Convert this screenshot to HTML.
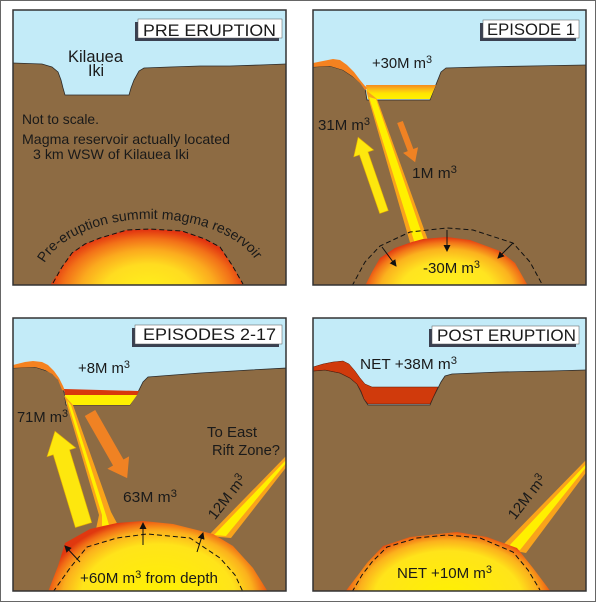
<!DOCTYPE html>
<html><head><meta charset="utf-8">
<style>
html,body{margin:0;padding:0;background:#fff;width:600px;height:605px;overflow:hidden}
svg{display:block}
text{font-family:"Liberation Sans",Arial,sans-serif;fill:#1a1a1a}
</style></head><body>
<svg width="600" height="605" viewBox="0 0 600 605" xmlns="http://www.w3.org/2000/svg">
<defs>
<clipPath id="c1"><rect x="13" y="10" width="273" height="275"/></clipPath>
<clipPath id="c2"><rect x="313" y="10" width="273" height="275"/></clipPath>
<clipPath id="c3"><rect x="13" y="318" width="273" height="273"/></clipPath>
<clipPath id="c4"><rect x="313" y="318" width="273" height="273"/></clipPath>
<radialGradient id="g1" gradientUnits="userSpaceOnUse" cx="148" cy="292" r="100" gradientTransform="translate(148,292) scale(1,0.62) translate(-148,-292)">
<stop offset="0" stop-color="#fff21a"/><stop offset="0.45" stop-color="#ffdc20"/><stop offset="0.68" stop-color="#fbaa1e"/><stop offset="0.86" stop-color="#f27018"/><stop offset="1" stop-color="#e23510"/>
</radialGradient>
<radialGradient id="g2" gradientUnits="userSpaceOnUse" cx="447" cy="292" r="86" gradientTransform="translate(447,292) scale(1,0.64) translate(-447,-292)">
<stop offset="0" stop-color="#fff21a"/><stop offset="0.55" stop-color="#ffe420"/><stop offset="0.78" stop-color="#fbb21e"/><stop offset="0.9" stop-color="#f27418"/><stop offset="1" stop-color="#e23510"/>
</radialGradient>
<radialGradient id="g3" gradientUnits="userSpaceOnUse" cx="158" cy="600" r="114" gradientTransform="translate(158,600) scale(1,0.72) translate(-158,-600)">
<stop offset="0" stop-color="#fff200"/><stop offset="0.68" stop-color="#ffe41a"/><stop offset="0.84" stop-color="#fbb01c"/><stop offset="0.94" stop-color="#f06a15"/><stop offset="1" stop-color="#e0380f"/>
</radialGradient>
<radialGradient id="g4" gradientUnits="userSpaceOnUse" cx="448" cy="600" r="106" gradientTransform="translate(448,600) scale(1,0.66) translate(-448,-600)">
<stop offset="0" stop-color="#fff200"/><stop offset="0.7" stop-color="#ffe41a"/><stop offset="0.85" stop-color="#fbb01c"/><stop offset="0.95" stop-color="#f06a15"/><stop offset="1" stop-color="#e0380f"/>
</radialGradient>
<linearGradient id="lake" x1="0" y1="0" x2="0" y2="1">
<stop offset="0" stop-color="#f58a1f"/><stop offset="0.3" stop-color="#fbb917"/><stop offset="0.6" stop-color="#ffe500"/><stop offset="1" stop-color="#fff200"/>
</linearGradient>
<marker id="ah" markerUnits="userSpaceOnUse" markerWidth="7" markerHeight="7" refX="6" refY="3.5" orient="auto">
<path d="M0,0 L7,3.5 L0,7 Z" fill="#111"/>
</marker>
<path id="arc1" d="M 44,264 A 112,64 0 0 1 258,264" fill="none"/>
</defs>

<rect x="0.5" y="0.5" width="595" height="601" fill="#fff" stroke="#666" stroke-width="1"/>

<!-- PANEL 1 -->
<g clip-path="url(#c1)">
<rect x="13" y="10" width="273" height="275" fill="#c3ebf8"/>
<path d="M13,63 L42,64 L52,67 L58,72 L61,80 L63,88 L65,95 L129,95 L131,88 L134,80 L139,71 L144,68 L170,67 L200,66 L230,66 L260,65 L287,64 L287,286 L13,286 Z" fill="#8d6b43" stroke="#2b2b2b" stroke-width="0.8"/>
<path d="M50,286 L52,282 L62,267 L72,253 L85,244 L100,238 L127,230 L150,229 L182,231 L205,239 L220,247 L232,265 L244,286 Z" fill="url(#g1)"/>
<path d="M53,283 L62,267 L72,253 L85,244 L100,238 L127,230 L150,229 L182,231 L205,239 L220,247 L232,265 L243,284" fill="none" stroke="#111" stroke-width="1" stroke-dasharray="5,3"/>
<text x="68" y="62" font-size="16.5" textLength="55" lengthAdjust="spacingAndGlyphs">Kilauea</text>
<text x="88" y="76" font-size="16.5" textLength="16" lengthAdjust="spacingAndGlyphs">Iki</text>
<text x="22" y="124" font-size="14" textLength="77" lengthAdjust="spacingAndGlyphs">Not to scale.</text>
<text x="22" y="144" font-size="14" textLength="208" lengthAdjust="spacingAndGlyphs">Magma reservoir actually located</text>
<text x="33" y="159" font-size="14" textLength="156" lengthAdjust="spacingAndGlyphs">3 km WSW of Kilauea Iki</text>
<text font-size="14"><textPath href="#arc1" startOffset="1" textLength="236" lengthAdjust="spacingAndGlyphs">Pre-eruption summit magma reservoir</textPath></text>
</g>
<rect x="135" y="22" width="144" height="19" fill="#3a4050"/>
<rect x="138" y="19" width="144" height="19" fill="#fff" stroke="#555" stroke-width="0.5"/>
<text x="143" y="36" font-size="17" textLength="133" lengthAdjust="spacingAndGlyphs">PRE ERUPTION</text>
<rect x="13" y="10" width="273" height="275" fill="none" stroke="#333" stroke-width="1.5"/>

<!-- PANEL 2 -->
<g clip-path="url(#c2)">
<rect x="313" y="10" width="273" height="275" fill="#c3ebf8"/>
<path d="M313,67 L330,66 L343,70 L352,76 L360,82 L365,88 L367,100 L430,100 L433,92 L437,82 L441,72 L446,68 L480,67 L530,66 L587,65 L587,286 L313,286 Z" fill="#8d6b43" stroke="#2b2b2b" stroke-width="0.8"/>
<path d="M313,63 L323,61 L333,59 L340,60 L347,65 L354,72 L360,80 L365,86 L368,88 L365,90 L360,83 L352,76 L343,70 L330,66 L313,67 Z" fill="#f58220"/>
<path d="M366,85 L436,85 L430,99 L368,99 Z" fill="url(#lake)"/>
<path d="M366,90 L377,99 L429,243 L411,246 Z" fill="#f9a31b"/>
<path d="M369,97 L376,99 L425,243 L415,244 Z" fill="#fff000"/>
<path d="M365,286 L372,272 L380,258 L395,248 L412,242 L423,239 L447,237 L470,240 L500,251 L515,263 L528,286 Z" fill="url(#g2)"/>
<path d="M352,286 L365,262 L380,246 L410,232 L447,228 L473,230 L513,243 L530,262 L543,286" fill="none" stroke="#111" stroke-width="1" stroke-dasharray="5,3"/>
<line x1="382" y1="247" x2="396" y2="266" stroke="#111" stroke-width="1" marker-end="url(#ah)"/>
<line x1="447" y1="230" x2="447" y2="251" stroke="#111" stroke-width="1" marker-end="url(#ah)"/>
<line x1="513" y1="243" x2="498" y2="258" stroke="#111" stroke-width="1" marker-end="url(#ah)"/>
<polygon transform="translate(384,212) rotate(-109.1)" points="0,-4.5 62,-4.5 62,-10.5 79,0 62,10.5 62,4.5 0,4.5" fill="#fde70e" stroke="#e8b000" stroke-width="0.6"/>
<polygon transform="translate(400,122) rotate(69.4)" points="0,-3 30,-3 30,-8 43,0 30,8 30,3 0,3" fill="#f08223"/>
<text x="372" y="68" font-size="15" textLength="60" lengthAdjust="spacingAndGlyphs">+30M m<tspan font-size="11" dy="-5">3</tspan></text>
<text x="318" y="130" font-size="15" textLength="52" lengthAdjust="spacingAndGlyphs">31M m<tspan font-size="11" dy="-5">3</tspan></text>
<text x="412" y="178" font-size="15" textLength="45" lengthAdjust="spacingAndGlyphs">1M m<tspan font-size="11" dy="-5">3</tspan></text>
<text x="423" y="273" font-size="15" textLength="57" lengthAdjust="spacingAndGlyphs">-30M m<tspan font-size="11" dy="-5">3</tspan></text>
</g>
<rect x="480" y="23" width="96" height="18" fill="#3a4050"/>
<rect x="483" y="20" width="96" height="18" fill="#fff" stroke="#555" stroke-width="0.5"/>
<text x="487" y="35" font-size="17" textLength="88" lengthAdjust="spacingAndGlyphs">EPISODE 1</text>
<rect x="313" y="10" width="273" height="275" fill="none" stroke="#333" stroke-width="1.5"/>

<!-- PANEL 3 -->
<g clip-path="url(#c3)">
<rect x="13" y="318" width="273" height="273" fill="#c3ebf8"/>
<path d="M13,368 L35,367 L50,372 L57,378 L61,384 L64,392 L66,405 L130,405 L134,398 L138,392 L143,382 L148,377 L200,373 L250,370 L287,368 L287,592 L13,592 Z" fill="#8d6b43" stroke="#2b2b2b" stroke-width="0.8"/>
<path d="M13,365 L25,362 L33,361 L42,362 L48,365 L54,371 L59,378 L63,386 L65,391 L62,390 L58,380 L52,374 L45,370 L35,367 L13,368 Z" fill="#f58220"/>
<path d="M64,389 L139,391 L137,395 L65,395 Z" fill="#d8380c"/>
<path d="M65,395 L137,395 L130,405 L67,405 Z" fill="#fff000"/>
<path d="M64,395 L73,405 L111,512 L119,527 L96,529 L99,515 Z" fill="#f9a31b"/>
<path d="M67,400 L71,405 L106,515 L109,525 L102,526 L102,515 Z" fill="#fff000"/>
<path d="M208,536 L286,456 L288,457 L288,465 L231,538 Z" fill="#f9a31b"/>
<path d="M214,535 L287,459 L287,462 L226,536 Z" fill="#fff000"/>
<path d="M48,592 L58,566 L65,543 L90,529 L117,523 L143,521 L173,524 L213,534 L233,546 L253,568 L268,592 Z" fill="url(#g3)"/>
<path d="M53,592 L70,568 L87,547 L117,538 L147,534 L190,538 L220,558 L235,575 L243,592" fill="none" stroke="#111" stroke-width="1" stroke-dasharray="5,3"/>
<line x1="80" y1="562" x2="65" y2="546" stroke="#111" stroke-width="1" marker-end="url(#ah)"/>
<line x1="143" y1="545" x2="143" y2="523" stroke="#111" stroke-width="1" marker-end="url(#ah)"/>
<line x1="197" y1="552" x2="203" y2="533" stroke="#111" stroke-width="1" marker-end="url(#ah)"/>
<polygon transform="translate(83.5,525) rotate(-106.9)" points="0,-8.5 76,-8.5 76,-15 98,0 76,15 76,8.5 0,8.5" fill="#fde70e" stroke="#e8b000" stroke-width="0.6"/>
<polygon transform="translate(90,413) rotate(60.3)" points="0,-6 57,-6 57,-12.5 75,0 57,12.5 57,6 0,6" fill="#f08223"/>
<text x="78" y="373" font-size="15" textLength="52" lengthAdjust="spacingAndGlyphs">+8M m<tspan font-size="11" dy="-5">3</tspan></text>
<text x="17" y="422" font-size="15" textLength="51" lengthAdjust="spacingAndGlyphs">71M m<tspan font-size="11" dy="-5">3</tspan></text>
<text x="123" y="502" font-size="15" textLength="54" lengthAdjust="spacingAndGlyphs">63M m<tspan font-size="11" dy="-5">3</tspan></text>
<text x="207" y="437" font-size="15" textLength="50" lengthAdjust="spacingAndGlyphs">To East</text>
<text x="212" y="455" font-size="15" textLength="68" lengthAdjust="spacingAndGlyphs">Rift Zone?</text>
<text transform="translate(227,497) rotate(-52)" x="0" y="5" font-size="15" text-anchor="middle">12M m<tspan font-size="11" dy="-5">3</tspan></text>
<text x="80" y="583" font-size="15" textLength="138" lengthAdjust="spacingAndGlyphs">+60M m<tspan font-size="11" dy="-5">3</tspan><tspan dy="5"> from depth</tspan></text>
</g>
<rect x="132" y="328" width="147" height="19" fill="#3a4050"/>
<rect x="135" y="325" width="147" height="19" fill="#fff" stroke="#555" stroke-width="0.5"/>
<text x="143" y="340" font-size="17" textLength="133" lengthAdjust="spacingAndGlyphs">EPISODES 2-17</text>
<rect x="13" y="318" width="273" height="273" fill="none" stroke="#333" stroke-width="1.5"/>

<!-- PANEL 4 -->
<g clip-path="url(#c4)">
<rect x="313" y="318" width="273" height="273" fill="#c3ebf8"/>
<path d="M313,371 L325,370 L340,373 L350,378 L357,384 L361,392 L364,399 L368,405 L430,405 L433,398 L437,390 L441,382 L445,376 L452,374 L500,372 L550,371 L587,370 L587,592 L313,592 Z" fill="#8d6b43" stroke="#2b2b2b" stroke-width="0.8"/>
<path d="M313,367 L323,364 L333,362 L343,361 L349,364 L355,371 L360,378 L365,384 L372,387 L438,387 L430,404 L368,404 L364,399 L361,391 L357,384 L350,378 L340,373 L325,370 L313,371 Z" fill="#d03a0c" stroke="#5a1a05" stroke-width="0.5"/>
<path d="M500,548 L586,460 L588,461 L588,470 L526,553 Z" fill="#f9a31b"/>
<path d="M507,548 L587,463 L587,466 L520,550 Z" fill="#fff000"/>
<path d="M345,592 L358,575 L367,563 L383,546 L410,537 L457,532 L487,537 L517,548 L533,568 L551,592 Z" fill="url(#g4)"/>
<path d="M352,592 L362,575 L372,562 L387,547 L417,538 L447,535 L480,538 L513,552 L528,570 L540,590" fill="none" stroke="#111" stroke-width="1" stroke-dasharray="5,3"/>
<text x="360" y="369" font-size="15" textLength="97" lengthAdjust="spacingAndGlyphs">NET +38M m<tspan font-size="11" dy="-5">3</tspan></text>
<text transform="translate(527,497) rotate(-52)" x="0" y="5" font-size="15" text-anchor="middle">12M m<tspan font-size="11" dy="-5">3</tspan></text>
<text x="397" y="578" font-size="15" textLength="95" lengthAdjust="spacingAndGlyphs">NET +10M m<tspan font-size="11" dy="-5">3</tspan></text>
</g>
<rect x="429" y="329" width="147" height="18" fill="#3a4050"/>
<rect x="432" y="326" width="147" height="18" fill="#fff" stroke="#555" stroke-width="0.5"/>
<text x="437" y="341" font-size="17" textLength="139" lengthAdjust="spacingAndGlyphs">POST ERUPTION</text>
<rect x="313" y="318" width="273" height="273" fill="none" stroke="#333" stroke-width="1.5"/>
</svg>
</body></html>
